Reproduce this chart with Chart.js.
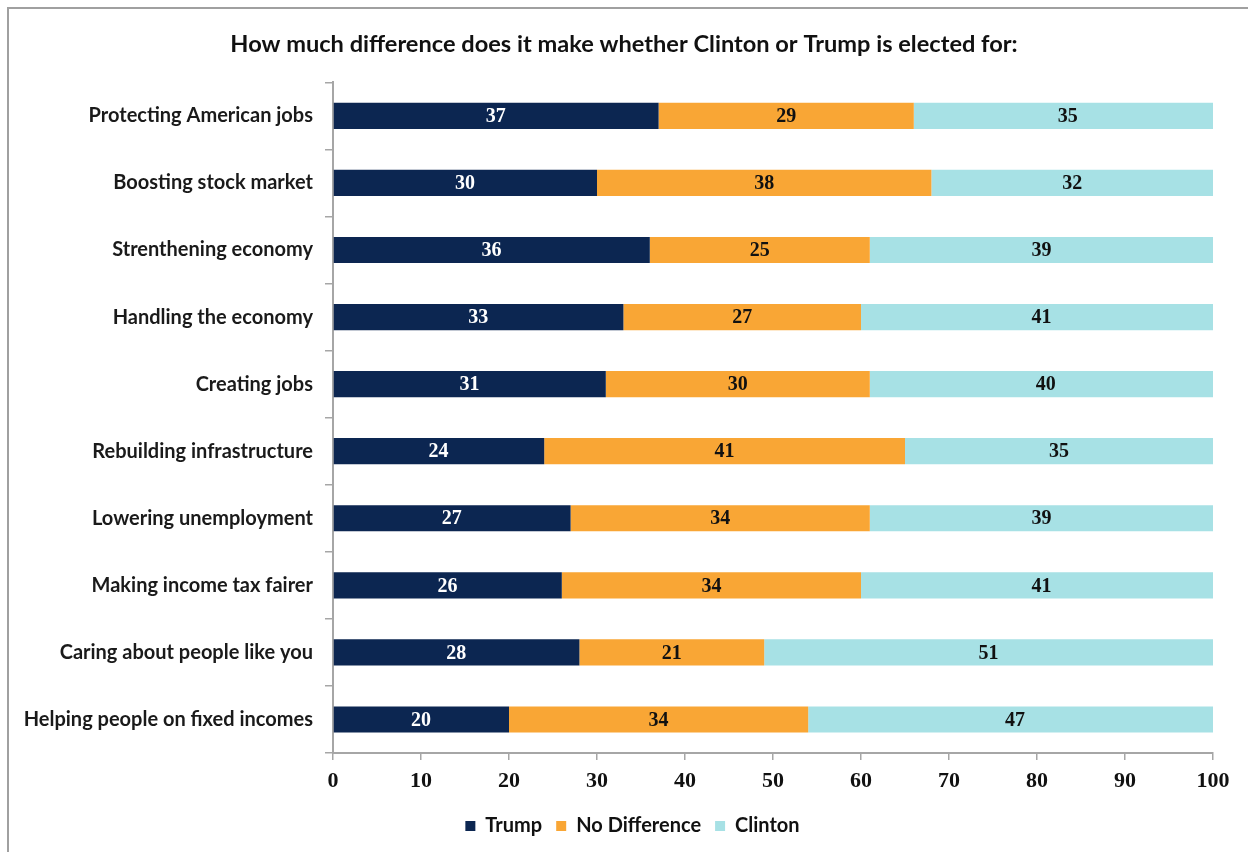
<!DOCTYPE html>
<html>
<head>
<meta charset="utf-8">
<title>Clinton or Trump</title>
<script src="https://cdn.jsdelivr.net/npm/chart.js@4.4.1/dist/chart.umd.min.js"></script>
<style>
  html, body { margin: 0; padding: 0; background: #ffffff; }
  #wrap { width: 1248px; height: 852px; position: relative; }
  canvas { display: block; }
</style>
</head>
<body>
<div id="wrap"><canvas id="chart" width="1248" height="852"></canvas></div>
<script>
const categories = [
  'Protecting American jobs',
  'Boosting stock market',
  'Strenthening economy',
  'Handling the economy',
  'Creating jobs',
  'Rebuilding infrastructure',
  'Lowering unemployment',
  'Making income tax fairer',
  'Caring about people like you',
  'Helping people on fixed incomes'
];
const trump        = [37, 30, 36, 33, 31, 24, 27, 26, 28, 20];
const noDifference = [29, 38, 25, 27, 30, 41, 34, 34, 21, 34];
const clinton      = [35, 32, 39, 41, 40, 35, 39, 41, 51, 47];
const xTicks = [0, 10, 20, 30, 40, 50, 60, 70, 80, 90, 100];

const AXIS_GREY = '#a6a6a6';
const SANS = 'Lato, "Open Sans", sans-serif';
const SERIF = '"Liberation Serif", "DejaVu Serif", serif';

// Frame lines along the top and left of the page
const framePlugin = {
  id: 'frame',
  beforeDraw(chart) {
    const ctx = chart.ctx;
    ctx.save();
    ctx.fillStyle = '#ffffff';
    ctx.fillRect(0, 0, chart.width, chart.height);
    ctx.strokeStyle = '#a0a0a0';
    ctx.lineWidth = 2;
    ctx.beginPath();
    ctx.moveTo(8, chart.height);
    ctx.lineTo(8, 8);
    ctx.lineTo(chart.width, 8);
    ctx.stroke();
    ctx.restore();
  }
};

// Centre the title and legend on the page rather than the padded box
const centreBlocks = {
  id: 'centreBlocks',
  afterLayout(chart) {
    if (chart.titleBlock) { chart.titleBlock.left = 35; }
    if (chart.legend) { chart.legend.left = 52; }
  }
};

// Value labels centred in each stacked segment
const segmentLabels = {
  id: 'segmentLabels',
  afterDatasetsDraw(chart) {
    const ctx = chart.ctx;
    const xs = chart.scales.x;
    const ys = chart.scales.y;
    ctx.save();
    ctx.font = 'bold 20px ' + SERIF;
    ctx.textAlign = 'center';
    ctx.textBaseline = 'middle';
    categories.forEach((c, i) => {
      let start = 0;
      chart.data.datasets.forEach((ds) => {
        const v = ds.data[i];
        const mid = xs.getPixelForValue(start + v / 2);
        ctx.fillStyle = ds.labelColor;
        ctx.fillText(String(v), mid, ys.getPixelForValue(i) + 1);
        start += v;
      });
    });
    ctx.restore();
  }
};

const common = { borderWidth: 0, barPercentage: 0.39, categoryPercentage: 1.0, clip: 0 };

new Chart(document.getElementById('chart'), {
  type: 'bar',
  data: {
    labels: categories,
    datasets: [
      Object.assign({ label: 'Trump', data: trump, backgroundColor: '#0c2651', labelColor: '#ffffff' }, common),
      Object.assign({ label: 'No Difference', data: noDifference, backgroundColor: '#f9a635', labelColor: '#111111' }, common),
      Object.assign({ label: 'Clinton', data: clinton, backgroundColor: '#a7e1e5', labelColor: '#111111' }, common)
    ]
  },
  options: {
    indexAxis: 'y',
    responsive: false,
    animation: false,
    devicePixelRatio: 1,
    layout: { padding: { left: 0, right: 35, top: 0, bottom: 6 } },
    plugins: {
      title: {
        display: true,
        text: 'How much difference does it make whether Clinton or Trump is elected for:',
        color: '#111111',
        font: { family: SANS, size: 23.6, weight: 'bold', lineHeight: 1.2 },
        padding: { top: 30, bottom: 24 }
      },
      legend: {
        position: 'bottom',
        labels: {
          boxWidth: 10,
          boxHeight: 10,
          padding: 14,
          color: '#111111',
          font: { family: SANS, size: 20, weight: 'bold' }
        }
      },
      tooltip: { enabled: false }
    },
    scales: {
      x: {
        stacked: true,
        min: 0,
        max: 100,
        afterBuildTicks(axis) { axis.ticks = xTicks.map(v => ({ value: v })); },
        grid: { display: true, drawOnChartArea: false, tickLength: 7, color: AXIS_GREY, lineWidth: 1.5 },
        border: { display: true, color: AXIS_GREY, width: 2 },
        ticks: { color: '#111111', padding: 8, font: { family: SERIF, size: 22, weight: 'bold' } },
        afterFit(axis) { axis.height = 49; }
      },
      y: {
        stacked: true,
        grid: { display: true, drawOnChartArea: false, offset: true, tickLength: 8, color: AXIS_GREY, lineWidth: 1.5 },
        border: { display: true, color: AXIS_GREY, width: 2 },
        ticks: { color: '#1a1a1a', padding: 12, font: { family: SANS, size: 20, weight: 'bold' } },
        afterFit(axis) { axis.width = 333; }
      }
    }
  },
  plugins: [framePlugin, centreBlocks, segmentLabels]
});
</script>
</body>
</html>
